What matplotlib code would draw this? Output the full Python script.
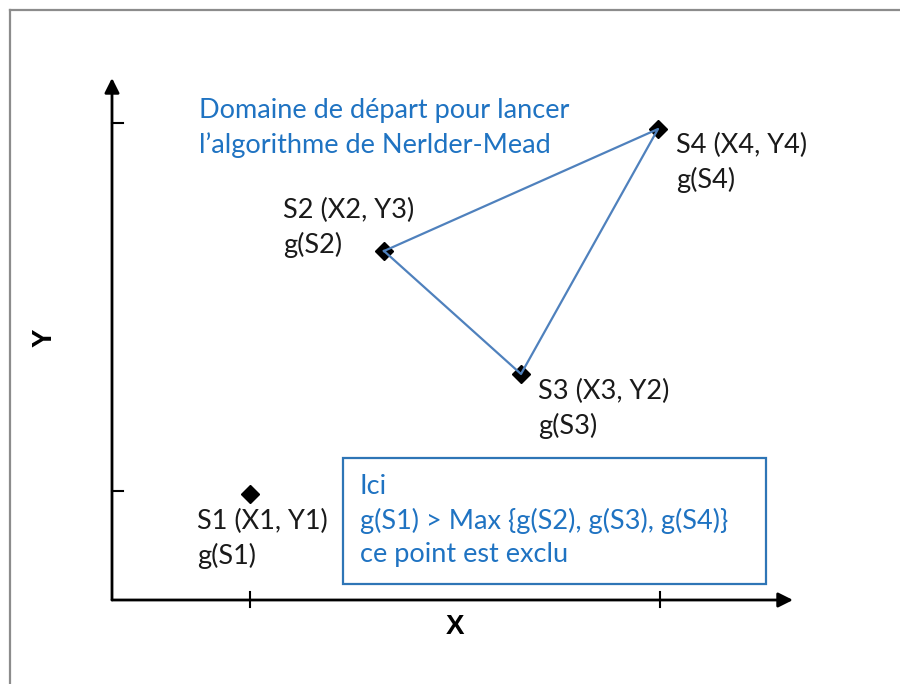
import matplotlib
matplotlib.use('Agg')
import matplotlib.pyplot as plt
from matplotlib.lines import Line2D
from matplotlib.patches import Rectangle

# sommets (unites arbitraires, origine = intersection des axes)
noms = ['S1', 'S2', 'S3', 'S4']
xs = [1.38, 2.72, 4.09, 5.46]
ys = [1.06, 3.49, 2.26, 4.71]
labels = ['S1 (X1, Y1)\ng(S1)', 'S2 (X2, Y3)\ng(S2)',
          'S3 (X3, Y2)\ng(S3)', 'S4 (X4, Y4)\ng(S4)']
label_pos = [(0.85, 0.91), (1.71, 4.02), (4.26, 2.21), (5.64, 4.67)]
xticks = [1.38, 5.48]
yticks = [1.09, 4.77]
simplexe = ['S2', 'S4', 'S3', 'S2']

titre = "Domaine de départ pour lancer\nl\u2019algorithme de Nerlder-Mead"
note = "Ici\ng(S1) > Max {g(S2), g(S3), g(S4)}\nce point est exclu"

bleu_txt = '#1f73c2'
bleu_ligne = '#4f81bd'
bleu_cadre = '#2e75b6'
police = ['Lato', 'DejaVu Sans']
fs = 19.5
interl = 1.42


def main():
    fig = plt.figure(figsize=(9, 6.84), dpi=100)
    ax = fig.add_axes([0, 0, 1, 1])
    ax.set_xlim(-1.12, 7.88)
    ax.set_ylim(-0.84, 6.00)
    ax.axis('off')

    # cadre gris
    fig.add_artist(Line2D([10/900, 1], [1 - 10/684, 1 - 10/684], color='#8c8c8c', lw=1.6))
    fig.add_artist(Line2D([10/900, 10/900], [0, 1 - 10/684], color='#8c8c8c', lw=1.6))

    # axes avec fleches
    ax.annotate('', xy=(0, 5.22), xytext=(0, 0),
                arrowprops=dict(arrowstyle='-|>', lw=2, color='black', mutation_scale=22,
                                shrinkA=0, shrinkB=0))
    ax.annotate('', xy=(6.81, 0), xytext=(0, 0),
                arrowprops=dict(arrowstyle='-|>', lw=2, color='black', mutation_scale=22,
                                shrinkA=0, shrinkB=0))
    for t in xticks:
        ax.plot([t, t], [-0.07, 0.08], color='black', lw=1.5)
    for t in yticks:
        ax.plot([0, 0.11], [t, t], color='black', lw=1.5)

    ax.text(-0.67, 2.62, 'Y', rotation=90, ha='center', va='center',
            fontsize=20, fontweight='bold', family=['Liberation Sans', 'DejaVu Sans'])
    ax.text(3.43, -0.27, 'X', ha='center', va='center',
            fontsize=20, fontweight='bold', family=['Liberation Sans', 'DejaVu Sans'])

    # sommets
    ax.plot(xs, ys, 'D', color='black', markersize=9, zorder=3)
    idx = [noms.index(n) for n in simplexe]
    ax.plot([xs[i] for i in idx], [ys[i] for i in idx], color=bleu_ligne, lw=1.6, zorder=4)

    for lab, (px, py) in zip(labels, label_pos):
        ax.text(px, py, lab, ha='left', va='top', fontsize=fs, color='#1a1a1a',
                family=police, linespacing=interl)

    ax.text(0.87, 5.02, titre, ha='left', va='top', fontsize=fs, color=bleu_txt,
            family=police, linespacing=interl)

    ax.add_patch(Rectangle((2.31, 0.16), 4.23, 1.26, fill=False, edgecolor=bleu_cadre, lw=1.6))
    ax.text(2.48, 1.26, note, ha='left', va='top', fontsize=fs, color=bleu_txt,
            family=police, linespacing=interl)

    fig.savefig('out.png', dpi=100, facecolor='white')


if __name__ == '__main__':
    main()
